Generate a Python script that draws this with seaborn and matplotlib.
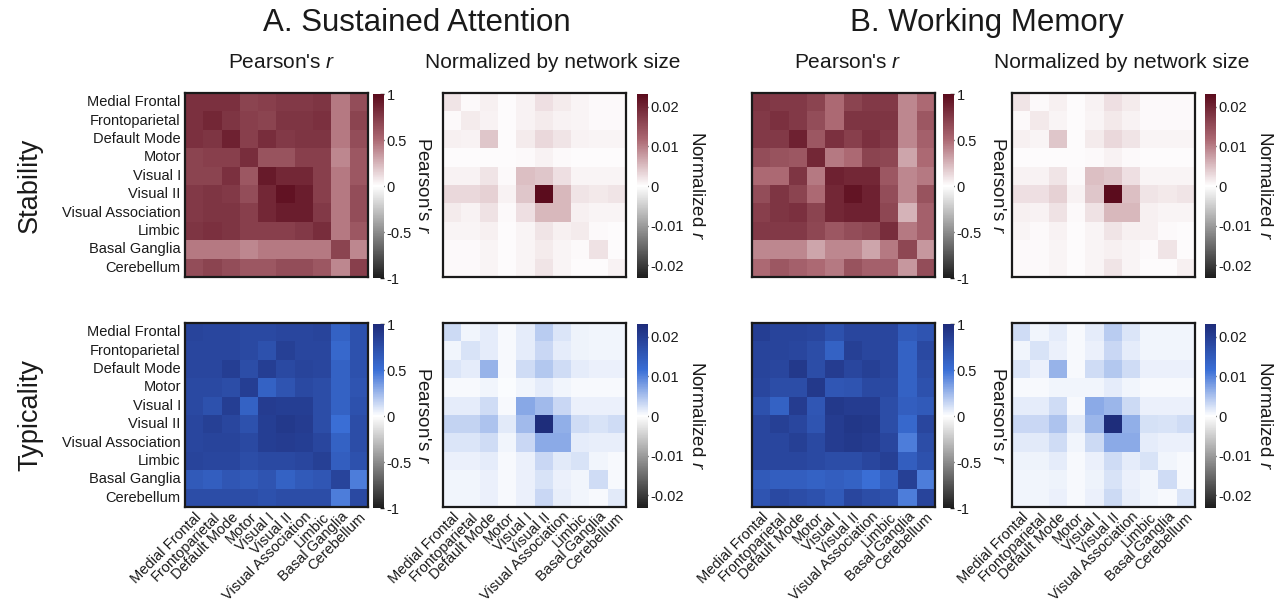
import numpy as np
import pandas as pd
import matplotlib
matplotlib.use("Agg")
import matplotlib.pyplot as plt
from matplotlib.colors import LinearSegmentedColormap
import seaborn as sns

sns.set_theme(style="white")
plt.rcParams['font.family'] = ['Liberation Sans', 'DejaVu Sans']
plt.rcParams['mathtext.fontset'] = 'custom'
plt.rcParams['mathtext.it'] = 'Liberation Sans:italic'
plt.rcParams['mathtext.rm'] = 'Liberation Sans'

networks = ["Medial Frontal", "Frontoparietal", "Default Mode", "Motor", "Visual I",
            "Visual II", "Visual Association", "Limbic", "Basal Ganglia", "Cerebellum"]

# ---- A. Sustained Attention ----
sa_stab_r = [
    [0.80, 0.80, 0.80, 0.70, 0.72, 0.75, 0.75, 0.78, 0.45, 0.65],
    [0.80, 0.85, 0.78, 0.72, 0.70, 0.78, 0.78, 0.80, 0.45, 0.70],
    [0.80, 0.78, 0.88, 0.72, 0.82, 0.75, 0.78, 0.78, 0.45, 0.65],
    [0.70, 0.72, 0.72, 0.82, 0.62, 0.62, 0.72, 0.72, 0.40, 0.60],
    [0.70, 0.70, 0.80, 0.60, 0.92, 0.85, 0.85, 0.72, 0.45, 0.60],
    [0.75, 0.78, 0.75, 0.65, 0.85, 0.96, 0.90, 0.72, 0.45, 0.65],
    [0.75, 0.78, 0.78, 0.72, 0.85, 0.90, 0.90, 0.75, 0.45, 0.65],
    [0.78, 0.80, 0.78, 0.72, 0.72, 0.72, 0.75, 0.82, 0.45, 0.60],
    [0.45, 0.45, 0.45, 0.40, 0.45, 0.45, 0.45, 0.45, 0.70, 0.40],
    [0.65, 0.70, 0.65, 0.60, 0.60, 0.65, 0.65, 0.60, 0.40, 0.72],
]
sa_stab_norm = [
    [0.0020, 0.0005, 0.0012, 0.0003, 0.0010, 0.0025, 0.0015, 0.0008, 0.0005, 0.0005],
    [0.0005, 0.0015, 0.0010, 0.0003, 0.0010, 0.0015, 0.0010, 0.0008, 0.0005, 0.0005],
    [0.0012, 0.0010, 0.0045, 0.0003, 0.0015, 0.0030, 0.0020, 0.0010, 0.0008, 0.0008],
    [0.0003, 0.0003, 0.0003, 0.0002, 0.0005, 0.0010, 0.0005, 0.0003, 0.0003, 0.0003],
    [0.0010, 0.0010, 0.0020, 0.0005, 0.0050, 0.0045, 0.0025, 0.0008, 0.0008, 0.0008],
    [0.0030, 0.0030, 0.0035, 0.0010, 0.0045, 0.0230, 0.0055, 0.0020, 0.0018, 0.0020],
    [0.0015, 0.0010, 0.0022, 0.0005, 0.0025, 0.0055, 0.0055, 0.0012, 0.0008, 0.0008],
    [0.0008, 0.0008, 0.0012, 0.0003, 0.0008, 0.0020, 0.0012, 0.0015, 0.0005, 0.0003],
    [0.0005, 0.0005, 0.0008, 0.0003, 0.0008, 0.0015, 0.0008, 0.0005, 0.0022, 0.0003],
    [0.0005, 0.0005, 0.0008, 0.0003, 0.0008, 0.0020, 0.0008, 0.0003, 0.0003, 0.0010],
]
sa_typ_r = [
    [0.82, 0.80, 0.80, 0.78, 0.78, 0.80, 0.80, 0.82, 0.60, 0.72],
    [0.80, 0.80, 0.80, 0.78, 0.72, 0.85, 0.80, 0.80, 0.55, 0.72],
    [0.80, 0.80, 0.86, 0.75, 0.86, 0.78, 0.82, 0.80, 0.60, 0.72],
    [0.78, 0.78, 0.75, 0.86, 0.60, 0.70, 0.78, 0.75, 0.60, 0.70],
    [0.78, 0.72, 0.86, 0.60, 0.88, 0.86, 0.86, 0.75, 0.60, 0.72],
    [0.80, 0.85, 0.80, 0.72, 0.86, 0.90, 0.88, 0.75, 0.50, 0.75],
    [0.80, 0.82, 0.82, 0.78, 0.86, 0.88, 0.86, 0.80, 0.60, 0.75],
    [0.82, 0.80, 0.80, 0.75, 0.78, 0.78, 0.80, 0.85, 0.62, 0.72],
    [0.65, 0.62, 0.68, 0.65, 0.70, 0.60, 0.65, 0.68, 0.82, 0.45],
    [0.75, 0.75, 0.75, 0.75, 0.72, 0.75, 0.75, 0.75, 0.45, 0.78],
]
sa_typ_norm = [
    [0.0030, 0.0008, 0.0015, 0.0005, 0.0015, 0.0040, 0.0020, 0.0010, 0.0008, 0.0008],
    [0.0008, 0.0022, 0.0015, 0.0005, 0.0015, 0.0032, 0.0015, 0.0010, 0.0008, 0.0008],
    [0.0020, 0.0015, 0.0060, 0.0005, 0.0028, 0.0045, 0.0028, 0.0015, 0.0012, 0.0012],
    [0.0005, 0.0005, 0.0008, 0.0003, 0.0008, 0.0016, 0.0008, 0.0005, 0.0005, 0.0005],
    [0.0015, 0.0015, 0.0028, 0.0005, 0.0070, 0.0055, 0.0032, 0.0012, 0.0012, 0.0012],
    [0.0035, 0.0035, 0.0048, 0.0018, 0.0055, 0.0230, 0.0065, 0.0028, 0.0022, 0.0028],
    [0.0020, 0.0020, 0.0028, 0.0008, 0.0032, 0.0068, 0.0068, 0.0016, 0.0014, 0.0014],
    [0.0012, 0.0012, 0.0015, 0.0005, 0.0012, 0.0032, 0.0018, 0.0022, 0.0008, 0.0005],
    [0.0008, 0.0008, 0.0012, 0.0005, 0.0012, 0.0022, 0.0012, 0.0008, 0.0028, 0.0005],
    [0.0008, 0.0008, 0.0012, 0.0005, 0.0012, 0.0032, 0.0014, 0.0008, 0.0005, 0.0018],
]

# ---- B. Working Memory ----
wm_stab_r = [
    [0.78, 0.75, 0.75, 0.70, 0.50, 0.70, 0.75, 0.75, 0.40, 0.50],
    [0.75, 0.80, 0.75, 0.65, 0.50, 0.78, 0.78, 0.78, 0.40, 0.60],
    [0.75, 0.75, 0.88, 0.60, 0.80, 0.72, 0.80, 0.75, 0.40, 0.55],
    [0.65, 0.62, 0.60, 0.85, 0.45, 0.50, 0.70, 0.68, 0.30, 0.50],
    [0.50, 0.50, 0.78, 0.45, 0.88, 0.85, 0.85, 0.60, 0.40, 0.45],
    [0.65, 0.78, 0.70, 0.50, 0.85, 0.95, 0.88, 0.65, 0.40, 0.62],
    [0.72, 0.78, 0.80, 0.70, 0.85, 0.88, 0.88, 0.68, 0.25, 0.55],
    [0.75, 0.75, 0.75, 0.68, 0.60, 0.65, 0.68, 0.82, 0.45, 0.55],
    [0.40, 0.40, 0.40, 0.30, 0.40, 0.40, 0.30, 0.45, 0.68, 0.35],
    [0.50, 0.60, 0.55, 0.50, 0.45, 0.62, 0.55, 0.55, 0.35, 0.65],
]
wm_stab_norm = [
    [0.0020, 0.0005, 0.0012, 0.0003, 0.0010, 0.0025, 0.0015, 0.0005, 0.0005, 0.0005],
    [0.0005, 0.0018, 0.0008, 0.0003, 0.0008, 0.0018, 0.0010, 0.0005, 0.0005, 0.0005],
    [0.0012, 0.0008, 0.0045, 0.0003, 0.0015, 0.0030, 0.0020, 0.0008, 0.0008, 0.0008],
    [0.0003, 0.0003, 0.0003, 0.0002, 0.0005, 0.0010, 0.0005, 0.0003, 0.0003, 0.0003],
    [0.0010, 0.0010, 0.0020, 0.0005, 0.0050, 0.0045, 0.0025, 0.0008, 0.0008, 0.0008],
    [0.0025, 0.0025, 0.0035, 0.0010, 0.0045, 0.0230, 0.0050, 0.0020, 0.0018, 0.0020],
    [0.0012, 0.0010, 0.0022, 0.0005, 0.0022, 0.0055, 0.0055, 0.0012, 0.0008, 0.0008],
    [0.0008, 0.0005, 0.0010, 0.0003, 0.0008, 0.0020, 0.0012, 0.0012, 0.0005, 0.0003],
    [0.0005, 0.0005, 0.0008, 0.0003, 0.0008, 0.0012, 0.0008, 0.0005, 0.0020, 0.0003],
    [0.0005, 0.0005, 0.0008, 0.0003, 0.0008, 0.0020, 0.0008, 0.0003, 0.0003, 0.0012],
]
wm_typ_r = [
    [0.86, 0.82, 0.82, 0.80, 0.72, 0.80, 0.80, 0.80, 0.65, 0.70],
    [0.82, 0.82, 0.80, 0.75, 0.60, 0.85, 0.80, 0.80, 0.60, 0.78],
    [0.82, 0.80, 0.90, 0.75, 0.88, 0.80, 0.85, 0.80, 0.60, 0.75],
    [0.80, 0.75, 0.75, 0.90, 0.68, 0.70, 0.78, 0.78, 0.60, 0.72],
    [0.72, 0.60, 0.88, 0.68, 0.90, 0.88, 0.88, 0.75, 0.62, 0.65],
    [0.80, 0.85, 0.80, 0.70, 0.88, 0.92, 0.90, 0.75, 0.55, 0.80],
    [0.80, 0.80, 0.85, 0.78, 0.88, 0.90, 0.88, 0.80, 0.45, 0.75],
    [0.80, 0.80, 0.80, 0.78, 0.75, 0.75, 0.80, 0.85, 0.62, 0.72],
    [0.65, 0.62, 0.62, 0.60, 0.62, 0.60, 0.50, 0.62, 0.85, 0.45],
    [0.70, 0.78, 0.75, 0.72, 0.65, 0.80, 0.75, 0.72, 0.45, 0.82],
]
wm_typ_norm = [
    [0.0028, 0.0008, 0.0015, 0.0005, 0.0015, 0.0040, 0.0020, 0.0008, 0.0008, 0.0008],
    [0.0008, 0.0022, 0.0012, 0.0005, 0.0012, 0.0032, 0.0015, 0.0008, 0.0008, 0.0008],
    [0.0020, 0.0012, 0.0060, 0.0005, 0.0028, 0.0045, 0.0028, 0.0012, 0.0012, 0.0012],
    [0.0005, 0.0005, 0.0008, 0.0008, 0.0008, 0.0016, 0.0008, 0.0005, 0.0005, 0.0005],
    [0.0015, 0.0015, 0.0028, 0.0005, 0.0068, 0.0058, 0.0030, 0.0012, 0.0012, 0.0012],
    [0.0032, 0.0032, 0.0048, 0.0018, 0.0058, 0.0230, 0.0065, 0.0025, 0.0022, 0.0028],
    [0.0018, 0.0018, 0.0028, 0.0008, 0.0030, 0.0068, 0.0068, 0.0016, 0.0012, 0.0012],
    [0.0010, 0.0010, 0.0015, 0.0005, 0.0012, 0.0028, 0.0016, 0.0022, 0.0008, 0.0005],
    [0.0008, 0.0008, 0.0010, 0.0005, 0.0010, 0.0022, 0.0012, 0.0008, 0.0028, 0.0005],
    [0.0008, 0.0008, 0.0012, 0.0005, 0.0012, 0.0030, 0.0014, 0.0008, 0.0005, 0.0020],
]

pearson_ticks = [-1, -0.5, 0, 0.5, 1]
pearson_ticklabels = ["-1", "-0.5", "0", "0.5", "1"]
norm_ticks = [-0.02, -0.01, 0, 0.01, 0.02]
norm_ticklabels = ["-0.02", "-0.01", "0", "0.01", "0.02"]
norm_lim = 0.0232

col_titles = ["Pearson's $\\it{r}$", "Normalized by network size",
              "Pearson's $\\it{r}$", "Normalized by network size"]
group_titles = ["A. Sustained Attention", "B. Working Memory"]
row_titles = ["Stability", "Typicality"]

red_cmap = LinearSegmentedColormap.from_list(
    "gray_red", [(0.0, "#1c1c1c"), (0.25, "#8c8c8c"), (0.5, "#ffffff"),
                 (0.75, "#ad6a74"), (1.0, "#5a0b1c")])
blue_cmap = LinearSegmentedColormap.from_list(
    "gray_blue", [(0.0, "#1c1c1c"), (0.25, "#8c8c8c"), (0.5, "#ffffff"),
                  (0.75, "#3a6fd6"), (1.0, "#1e2c7a")])

W, H = 1282, 608
fig = plt.figure(figsize=(W / 100, H / 100), dpi=100)

heat_x = [185, 443, 752, 1012]
cbar_x = [373, 637, 943, 1205]
cbar_label_x = [422, 697, 997, 1264]
row_top = [93, 323]
hw, hh = 183, 184
cw = 11

panels = [
    [sa_stab_r, sa_stab_norm, wm_stab_r, wm_stab_norm],
    [sa_typ_r, sa_typ_norm, wm_typ_r, wm_typ_norm],
]

def frac(x, y, w, h):
    return [x / W, 1 - (y + h) / H, w / W, h / H]

for r in range(2):
    cmap = red_cmap if r == 0 else blue_cmap
    for c in range(4):
        is_pearson = (c % 2 == 0)
        ax = fig.add_axes(frac(heat_x[c], row_top[r], hw, hh))
        cax = fig.add_axes(frac(cbar_x[c], row_top[r] + 1, cw, hh))
        df = pd.DataFrame(np.array(panels[r][c]), index=networks, columns=networks)
        vlim = 1.0 if is_pearson else norm_lim
        sns.heatmap(df, ax=ax, cmap=cmap, vmin=-vlim, vmax=vlim, cbar_ax=cax,
                    xticklabels=networks if r == 1 else False,
                    yticklabels=networks if c == 0 else False,
                    linewidths=0)
        for sp in ax.spines.values():
            sp.set_visible(True)
            sp.set_color("#1a1a1a")
            sp.set_linewidth(1.6)
        ax.tick_params(axis="both", length=0, labelsize=10.5, colors="#1a1a1a", pad=3)
        if c == 0:
            ax.tick_params(axis="y", direction="in", length=3, width=0.8, left=True)
            for t in ax.get_yticklabels():
                t.set_rotation(0)
        if r == 1:
            ax.tick_params(axis="x", pad=2)
            for t in ax.get_xticklabels():
                t.set_rotation(45)
                t.set_ha("right")
                t.set_rotation_mode("anchor")
        cb = ax.collections[0].colorbar
        cb.outline.set_visible(False)
        if is_pearson:
            cb.set_ticks(pearson_ticks)
            cb.set_ticklabels(pearson_ticklabels)
        else:
            cb.set_ticks(norm_ticks)
            cb.set_ticklabels(norm_ticklabels)
        cax.tick_params(direction="in", length=3, width=1, colors="#1a1a1a",
                        labelsize=10.5, pad=2, right=True)
        label = "Pearson's $\\it{r}$" if is_pearson else "Normalized $\\it{r}$"
        fig.text(cbar_label_x[c] / W, 1 - (row_top[r] + hh / 2) / H, label, rotation=270,
                 ha="center", va="center", fontsize=13.5, color="#1a1a1a")

sub_cx = [282, 553, 848, 1122]
for c in range(4):
    fig.text(sub_cx[c] / W, 1 - 63 / H, col_titles[c], ha="center", va="center",
             fontsize=15, color="#1a1a1a")

for g, cx in enumerate([417, 987]):
    fig.text(cx / W, 1 - 23 / H, group_titles[g], ha="center", va="center",
             fontsize=22.5, color="#1a1a1a")

for r in range(2):
    fig.text(30 / W, 1 - (row_top[r] + hh / 2) / H, row_titles[r], rotation=90,
             ha="center", va="center", fontsize=19.5, color="#1a1a1a")

fig.savefig("out.png", dpi=100, facecolor="white")
